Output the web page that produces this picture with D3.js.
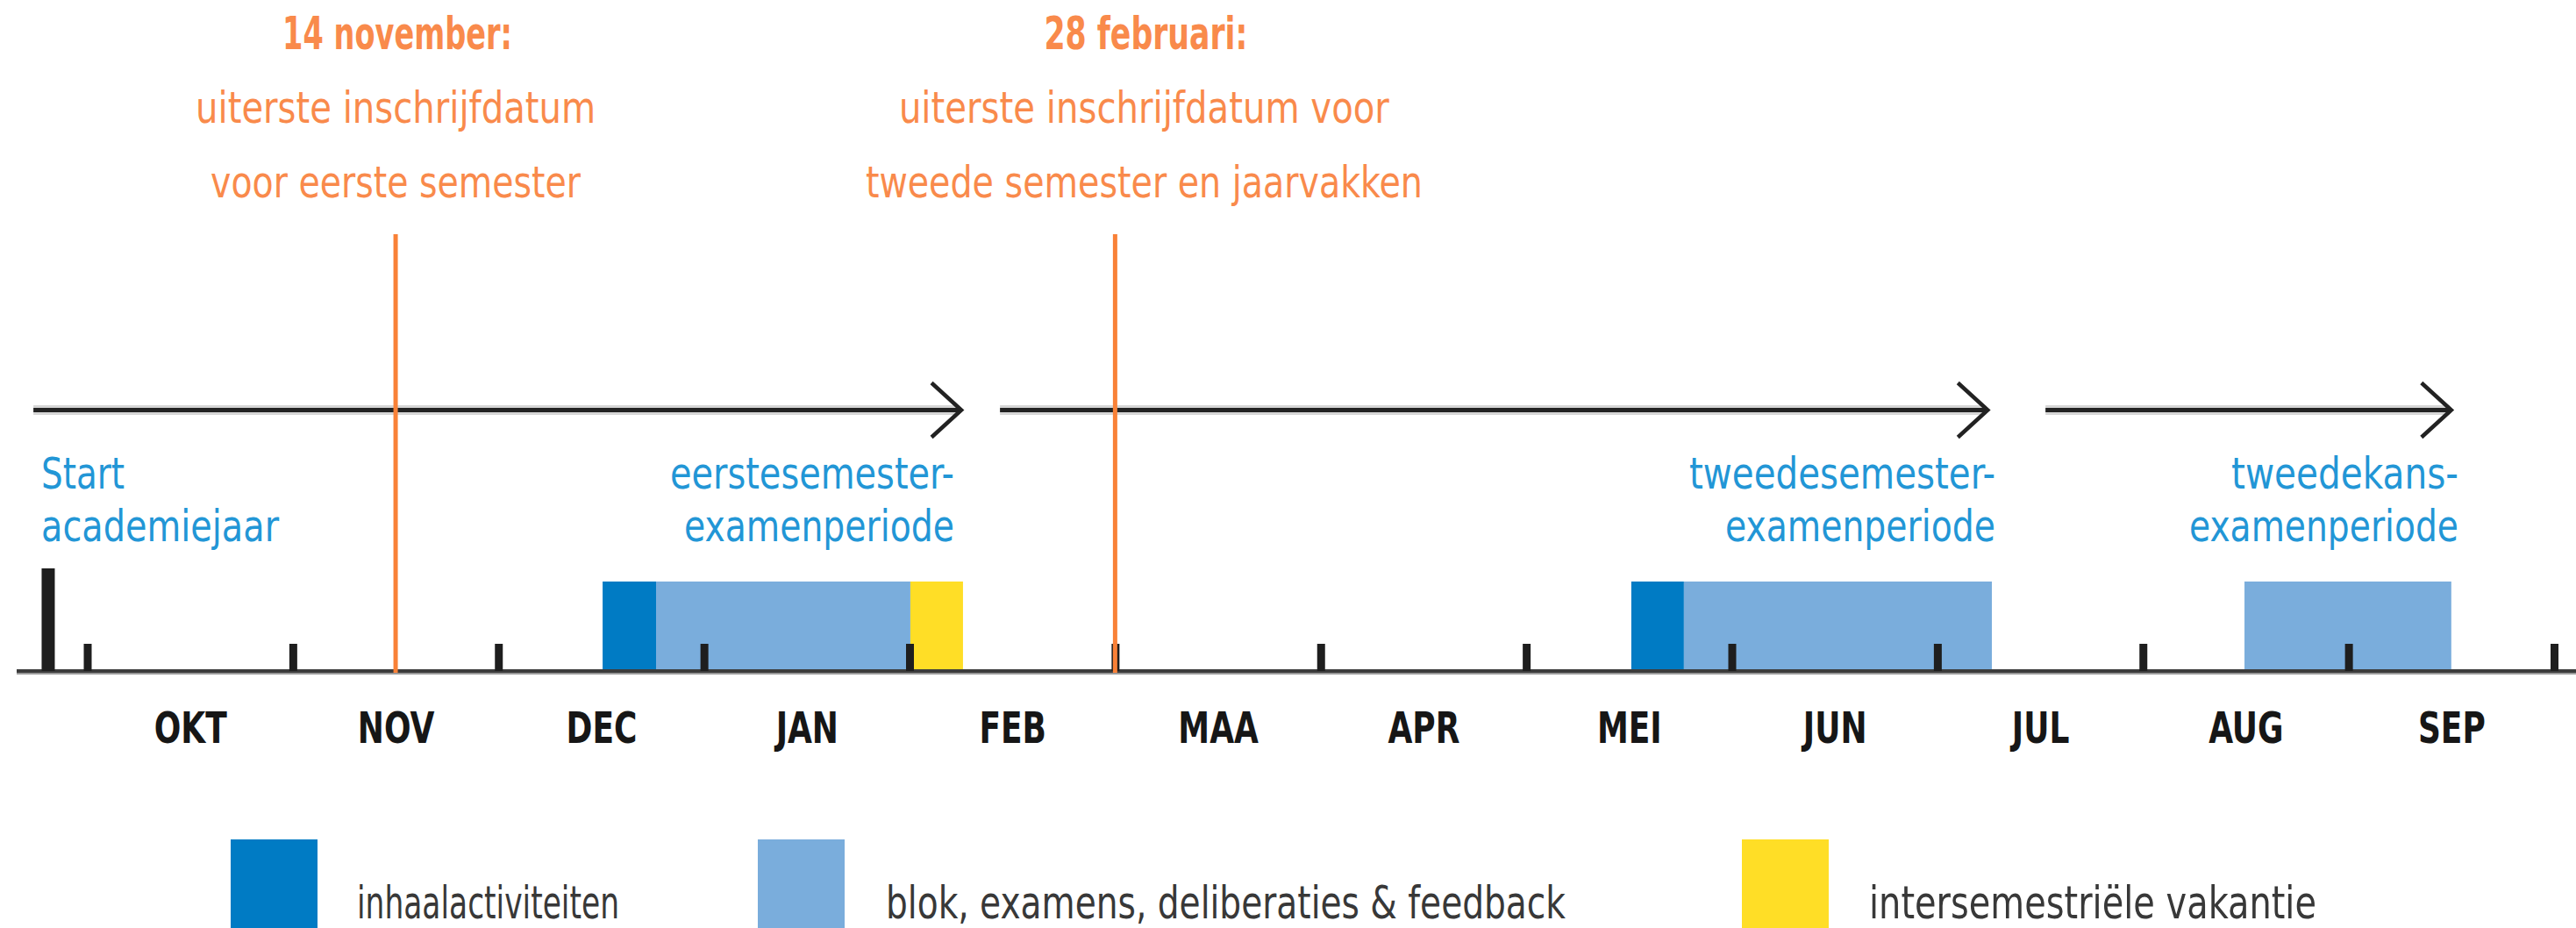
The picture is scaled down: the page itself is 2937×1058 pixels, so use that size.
<!DOCTYPE html>
<html>
<head>
<meta charset="utf-8">
<script src="https://cdn.jsdelivr.net/npm/d3@7/dist/d3.min.js"></script>
<style>
  html, body { margin: 0; padding: 0; background: #fff; }
  svg { display: block; }
  text { font-family: "Liberation Sans Narrow", "DejaVu Sans Condensed", "Roboto Condensed", sans-serif; }
</style>
</head>
<body>
<svg id="chart" width="2937" height="1058"></svg>
<script>
// ---- data (positions in months counted from 1 October) ----
const months = ["OKT", "NOV", "DEC", "JAN", "FEB", "MAA", "APR", "MEI", "JUN", "JUL", "AUG", "SEP"];
const monthBoundaries = [0, 1, 2, 3, 4, 5, 6, 7, 8, 9, 10, 11, 12];
const startYear = -0.19;                     // start academiejaar
const arrows = [[-0.262, 4.252], [4.44, 9.245], [9.526, 11.5]];
const periodKinds = ["inhaal", "blok", "vakantie", "inhaal", "blok", "blok"];
const periodStart = [2.507, 2.767, 4.004, 7.511, 7.767, 10.494];
const periodEnd   = [2.767, 4.004, 4.26, 7.767, 9.265, 11.5];
const deadlineAt = [1.5, 5.0];
const deadlineTitles = ["14 november:", "28 februari:"];
const deadlineLine1 = ["uiterste inschrijfdatum", "uiterste inschrijfdatum voor"];
const deadlineLine2 = ["voor eerste semester", "tweede semester en jaarvakken"];
const periodLabelLine1 = ["Start", "eerstesemester-", "tweedesemester-", "tweedekans-"];
const periodLabelLine2 = ["academiejaar", "examenperiode", "examenperiode", "examenperiode"];
const legendKeys = ["inhaal", "blok", "vakantie"];
const legendLabels = ["inhaalactiviteiten", "blok, examens, deliberaties & feedback", "intersemestriële vakantie"];

// ---- layout / style ----
const svg = d3.select("#chart");
const x = d3.scaleLinear().domain([0, 12]).range([99.5, 2912]);
const color = d3.scaleOrdinal().domain(legendKeys).range(["#007bc4", "#7aaddc", "#ffde26"]);
const baseY = 765, arrowY = 467.5, blockTop = 663;
const orangeLine = "#f98137", orangeText = "#f98a4b", blueText = "#2296d6";

// period blocks
svg.append("g").selectAll("rect").data(periodKinds).join("rect")
  .attr("x", (d, i) => x(periodStart[i]))
  .attr("width", (d, i) => x(periodEnd[i]) - x(periodStart[i]))
  .attr("y", blockTop).attr("height", baseY - blockTop)
  .attr("fill", d => color(d));

// baseline
svg.append("line").attr("x1", 19).attr("x2", 2937).attr("y1", baseY + 1.5).attr("y2", baseY + 1.5)
  .attr("stroke", "#9a9a9a").attr("stroke-width", 5);
svg.append("line").attr("x1", 19).attr("x2", 2937).attr("y1", baseY).attr("y2", baseY)
  .attr("stroke", "#3c3c3c").attr("stroke-width", 4);

// month ticks (axis)
const tickAxis = d3.axisTop(x).tickValues(monthBoundaries).tickSize(31).tickSizeOuter(0).tickFormat("");
const gt = svg.append("g").attr("transform", `translate(0,${baseY})`).call(tickAxis);
gt.select(".domain").remove();
gt.selectAll(".tick line").attr("stroke", "#1e1e1e").attr("stroke-width", 9);

// start bar
svg.append("rect").attr("x", x(startYear) - 7.5).attr("width", 15)
  .attr("y", 648).attr("height", baseY - 648).attr("fill", "#1e1e1e");

// month labels (axis)
const labelAxis = d3.axisBottom(x).tickValues(monthBoundaries.slice(0, 12).map(d => d + 0.5))
  .tickSize(0).tickFormat((d, i) => months[i]);
const gl = svg.append("g").attr("transform", `translate(0,${baseY})`).call(labelAxis);
gl.select(".domain").remove();
gl.selectAll(".tick text").attr("y", 0).attr("dy", 82)
  .style("font-size", "50px").style("font-weight", "bold").attr("fill", "#161616")
  .style("font-family", "'Liberation Sans Narrow', 'DejaVu Sans Condensed', sans-serif")
  .each(function () {
    const w = this.getComputedTextLength();
    d3.select(this).attr("textLength", w * 0.8).attr("lengthAdjust", "spacingAndGlyphs");
  });

// arrows
const ga = svg.append("g");
arrows.forEach(a => {
  ga.append("line").attr("x1", x(a[0])).attr("x2", x(a[1]) - 2).attr("y1", arrowY).attr("y2", arrowY)
    .attr("stroke", "#d6d6d6").attr("stroke-width", 11);
  ga.append("line").attr("x1", x(a[0])).attr("x2", x(a[1]) - 2).attr("y1", arrowY).attr("y2", arrowY)
    .attr("stroke", "#222").attr("stroke-width", 5);
  ga.append("path")
    .attr("d", `M${x(a[1]) - 34},${arrowY - 31} L${x(a[1])},${arrowY} L${x(a[1]) - 34},${arrowY + 31}`)
    .attr("fill", "none").attr("stroke", "#222").attr("stroke-width", 4.5);
});

// deadline lines
svg.append("g").selectAll("line").data(deadlineAt).join("line")
  .attr("x1", d => x(d)).attr("x2", d => x(d)).attr("y1", 267).attr("y2", 767)
  .attr("stroke", orangeLine).attr("stroke-width", 5);

// deadline texts
const dl = svg.append("g").attr("fill", orangeText).attr("text-anchor", "middle");
const titleW = [262, 232], l1W = [456, 559], l2W = [422, 635];
const dxText = [2, 35];
deadlineAt.forEach((d, i) => {
  const cx = x(d) + dxText[i];
  dl.append("text").attr("x", cx).attr("y", 56).text(deadlineTitles[i])
    .style("font-size", "52px").style("font-weight", "bold")
    .attr("textLength", titleW[i]).attr("lengthAdjust", "spacingAndGlyphs");
  dl.append("text").attr("x", cx - 2).attr("y", 140).text(deadlineLine1[i])
    .style("font-size", "50px")
    .attr("textLength", l1W[i]).attr("lengthAdjust", "spacingAndGlyphs");
  dl.append("text").attr("x", cx - 2).attr("y", 225).text(deadlineLine2[i])
    .style("font-size", "50px")
    .attr("textLength", l2W[i]).attr("lengthAdjust", "spacingAndGlyphs");
});

// period labels
const pAnchor = [47, 1088, 2275, 2803];
const pAlign = ["start", "end", "end", "end"];
const p1W = [95, 324, 349, 259], p2W = [271, 308, 308, 307];
const pl = svg.append("g").attr("fill", blueText);
periodLabelLine1.forEach((t, i) => {
  pl.append("text").attr("x", pAnchor[i]).attr("y", 557).attr("text-anchor", pAlign[i]).text(t)
    .style("font-size", "50px").attr("textLength", p1W[i]).attr("lengthAdjust", "spacingAndGlyphs");
  pl.append("text").attr("x", pAnchor[i]).attr("y", 617).attr("text-anchor", pAlign[i]).text(periodLabelLine2[i])
    .style("font-size", "50px").attr("textLength", p2W[i]).attr("lengthAdjust", "spacingAndGlyphs");
});

// legend
const legX = [263, 864, 1986], legTextX = [407, 1010, 2131], legW = [299, 775, 510];
const lg = svg.append("g");
legendKeys.forEach((k, i) => {
  lg.append("rect").attr("x", legX[i]).attr("y", 957).attr("width", 99).attr("height", 101).attr("fill", color(k));
  lg.append("text").attr("x", legTextX[i]).attr("y", 1047).text(legendLabels[i])
    .attr("fill", "#383838").style("font-size", "52px")
    .attr("textLength", legW[i]).attr("lengthAdjust", "spacingAndGlyphs");
});
</script>
</body>
</html>
